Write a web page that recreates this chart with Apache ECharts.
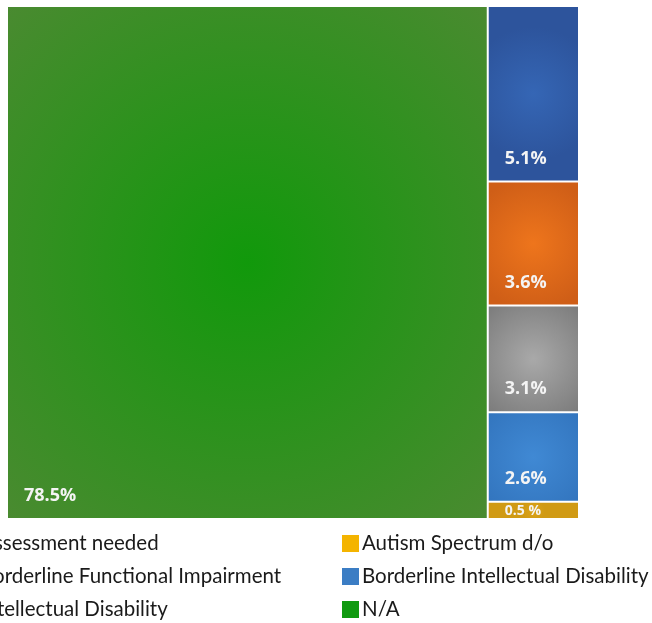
<!DOCTYPE html>
<html>
<head>
<meta charset="utf-8">
<script src="https://cdn.jsdelivr.net/npm/echarts@6/dist/echarts.min.js"></script>
<style>
html,body{margin:0;padding:0;background:#fff;}
#chart{width:652px;height:623px;}
</style>
</head>
<body>
<div id="chart"></div>
<script>
// Categories (legend order, column-major)
const categories = ['Assessment needed', 'Borderline Functional Impairment', 'Intellectual Disability',
                    'Autism Spectrum d/o', 'Borderline Intellectual Disability', 'N/A'];
// Treemap values (percent)
const values = [5.1, 3.6, 3.1, 0.5, 2.6, 78.5];
// Value labels as printed in the cells
const valueLabels = ['5.1%', '3.6%', '3.1%', '0.5 %', '2.6%', '78.5%'];
// Legend swatch colours
const legendColors = ['#2e5aa8', '#e8701a', '#a0a0a0', '#f4b400', '#3b7dc4', '#109a10'];
// Cell colours (center, edge) for the radial shading
const cellCenter = ['#3566b5', '#ee751c', '#a9a9a9', '#dca418', '#4089d4', '#11990b'];
const cellEdge   = ['#2d549c', '#cf5e17', '#7d7d7d', '#d09a14', '#3274bd', '#4b8a31'];

function radial(c, e) {
  return new echarts.graphic.RadialGradient(0.5, 0.5, 0.75, [
    {offset: 0, color: c}, {offset: 1, color: e}
  ]);
}

const treeData = categories.map((name, i) => {
  const item = {
    name: name,
    value: values[i],
    labelText: valueLabels[i],
    itemStyle: {color: radial(cellCenter[i], cellEdge[i])}
  };
  if (values[i] < 1) {
    item.label = {position: 'insideLeft', distance: 0, padding: 0, fontSize: 14, lineHeight: 14, offset: [16, 1]};
  }
  return item;
});

const chart = echarts.init(document.getElementById('chart'));
const legendCommon = {
  orient: 'vertical',
  top: 533,
  height: 90,
  padding: 0,
  itemWidth: 17,
  itemHeight: 17,
  itemGap: 12,
  icon: 'rect',
  selectedMode: false,
  textStyle: {fontFamily: 'Lato', fontSize: 20.5, lineHeight: 21, color: '#1a1a1a', padding: [0, 0, 0, -2]}
};
chart.setOption({
  animation: false,
  legend: [
    Object.assign({}, legendCommon, {left: -40, data: categories.slice(0, 3)}),
    Object.assign({}, legendCommon, {left: 342, data: categories.slice(3)})
  ],
  series: [
    {
      type: 'treemap',
      left: 8, top: 7, right: 74, bottom: 105,
      roam: false,
      nodeClick: false,
      breadcrumb: {show: false},
      silent: true,
      itemStyle: {gapWidth: 2, borderWidth: 0, borderColor: '#fff'},
      label: {
        show: true,
        position: 'insideBottomLeft',
        distance: 5,
        offset: [6, -3],
        formatter: p => p.data.labelText,
        color: '#f4f4f4',
        fontFamily: 'Open Sans',
        fontWeight: 'bold',
        fontSize: 18
      },
      data: treeData
    },
    {
      type: 'pie',
      radius: [0, 0],
      center: [-100, -100],
      silent: true,
      label: {show: false},
      data: categories.map((name, i) => ({name: name, value: 1, itemStyle: {color: legendColors[i]}}))
    }
  ]
});
</script>
</body>
</html>
